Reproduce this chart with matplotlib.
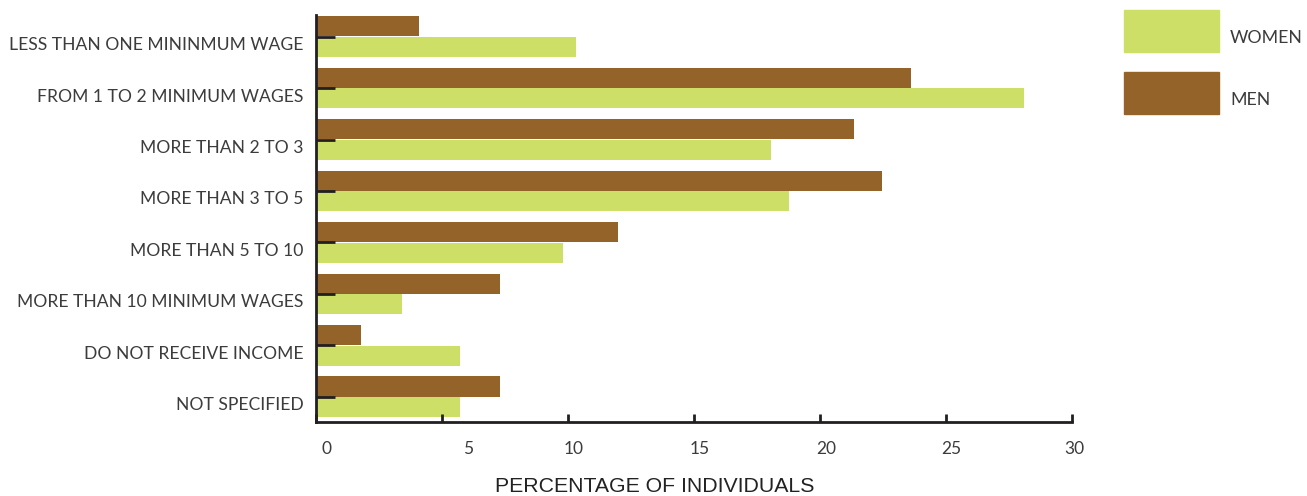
import matplotlib
matplotlib.use("Agg")
import numpy as np
import matplotlib.pyplot as plt
import matplotlib.transforms as mtransforms

categories = [
    "LESS THAN ONE MININMUM WAGE",
    "FROM 1 TO 2 MINIMUM WAGES",
    "MORE THAN 2 TO 3",
    "MORE THAN 3 TO 5",
    "MORE THAN 5 TO 10",
    "MORE THAN 10 MINIMUM WAGES",
    "DO NOT RECEIVE INCOME",
    "NOT SPECIFIED",
]
men = [4.1, 23.6, 21.35, 22.45, 12.0, 7.3, 1.8, 7.3]
women = [10.3, 28.1, 18.05, 18.75, 9.8, 3.4, 5.7, 5.7]
xticks = [0, 5, 10, 15, 20, 25, 30]

green = "#cddf66"
brown = "#94632a"
ink = "#231f20"
txt = "#3c3c3c"

fig = plt.figure(figsize=(13.07, 4.96), dpi=100)
ax = fig.add_axes([316 / 1307, 1 - 422 / 496, (1072 - 316) / 1307, (422 - 15) / 496])

y = np.arange(len(categories))
h = 0.39
ax.barh(y - h / 2 - 0.005, men, height=h, color=brown, label="MEN")
ax.barh(y + h / 2 + 0.005, women, height=h, color=green, label="WOMEN")

ax.set_xlim(0, 30)
ax.set_ylim(7.49, -0.42)

for s in ["top", "right"]:
    ax.spines[s].set_visible(False)
for s in ["left", "bottom"]:
    ax.spines[s].set_color(ink)
    ax.spines[s].set_linewidth(2)

ax.set_xticks(xticks)
ax.set_xticklabels([str(v) for v in xticks], fontsize=12.5, color=txt, family="Lato")
ax.tick_params(axis="x", direction="in", length=6, width=2, color=ink, pad=14)

# odd label offsets as in the source artwork
shifts = [11, 26, 6, 6, 6, 5, 2]
for lab, dx in zip(ax.get_xticklabels(), shifts):
    lab.set_transform(lab.get_transform() + mtransforms.Affine2D().translate(dx, 0))

ax.set_yticks(y)
ax.set_yticklabels(categories, fontsize=12.6, color=txt, family="Lato")
ax.tick_params(axis="y", direction="in", length=14, width=2, color=ink, pad=9)
for lab in ax.get_yticklabels():
    lab.set_transform(lab.get_transform() + mtransforms.Affine2D().translate(0, -7))

ax.set_xlabel("PERCENTAGE OF INDIVIDUALS", fontsize=15.3, color="#222222",
              family="Liberation Sans", labelpad=14)
ax.xaxis.label.set_x((655 - 316) / 756)

# legend as boxes + labels in figure space
fig.patches.append(plt.Rectangle((1124 / 1307, 1 - 52 / 496), 95 / 1307, 42 / 496,
                                 transform=fig.transFigure, color=green))
fig.patches.append(plt.Rectangle((1124 / 1307, 1 - 114 / 496), 95 / 1307, 42 / 496,
                                 transform=fig.transFigure, color=brown))
fig.text(1230 / 1307, 1 - 38 / 496, "WOMEN", fontsize=12.8, color=txt, family="Lato", va="center")
fig.text(1230 / 1307, 1 - 100 / 496, "MEN", fontsize=12.8, color=txt, family="Lato", va="center")

fig.savefig("out.png", dpi=100)
